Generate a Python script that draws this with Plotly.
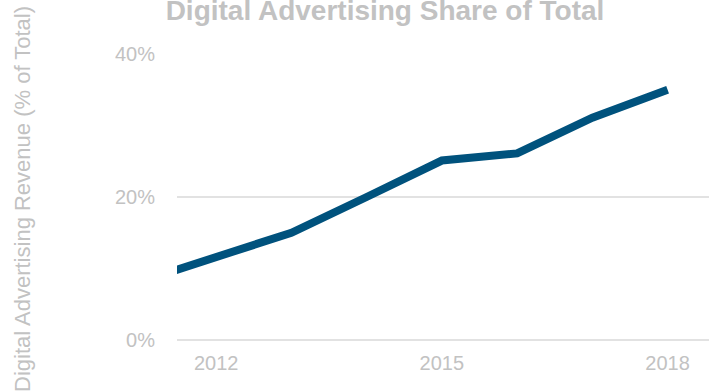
import plotly.graph_objects as go

# Digital advertising share of total ad revenue, by year (%)
years = [2011, 2012, 2013, 2014, 2015, 2016, 2017, 2018]
digital_share = [8.2, 11.6, 15.0, 20.0, 25.1, 26.1, 31.1, 35.0]

x_ticks = [2012, 2015, 2018]
y_ticks = [0, 20, 40]
y_tick_labels = ["0%", "20%", "40%"]

W, H = 709, 391
ML, MR, MT, MB = 177, 0, 54, 51
GRAY = "#c2c2c2"
FONT = "Arial, Liberation Sans, sans-serif"

fig = go.Figure(
    go.Scatter(
        x=years,
        y=digital_share,
        mode="lines",
        line=dict(color="#00527d", width=8, shape="linear"),
        hoverinfo="skip",
    )
)

fig.update_layout(
    width=W,
    height=H,
    margin=dict(l=ML, r=MR, t=MT, b=MB),
    paper_bgcolor="white",
    plot_bgcolor="white",
    showlegend=False,
    font=dict(family=FONT, color=GRAY, size=20),
    title=dict(
        text="<b>Digital Advertising Share of Total</b>",
        font=dict(family=FONT, size=28, color=GRAY),
        x=385 / W,
        xanchor="center",
        xref="container",
        y=1 - 10 / H,
        yanchor="middle",
    ),
)

fig.update_xaxes(
    range=[2011.48, 2018.55],
    tickvals=x_ticks,
    ticktext=[str(v) for v in x_ticks],
    showgrid=False,
    zeroline=False,
    showline=False,
    ticks="outside",
    ticklen=5,
    tickcolor="rgba(0,0,0,0)",
    tickfont=dict(size=20, color=GRAY),
)

fig.update_yaxes(
    range=[0, 40],
    tickvals=y_ticks,
    ticktext=y_tick_labels,
    showgrid=True,
    gridcolor="#e2e2e2",
    gridwidth=1.5,
    zeroline=True,
    zerolinecolor="#e2e2e2",
    zerolinewidth=1.5,
    showline=False,
    ticks="outside",
    ticklen=17,
    tickcolor="rgba(0,0,0,0)",
    tickfont=dict(size=20, color=GRAY),
)

fig.add_annotation(
    text="Digital Advertising Revenue (% of Total)",
    textangle=-90,
    xref="paper",
    yref="paper",
    x=(22 - ML) / (W - ML - MR),
    y=0.5 - (199 - (MT + (H - MT - MB) / 2)) / (H - MT - MB),
    xanchor="center",
    yanchor="middle",
    showarrow=False,
    font=dict(family=FONT, size=22, color=GRAY),
)

fig.write_html("out.html")
